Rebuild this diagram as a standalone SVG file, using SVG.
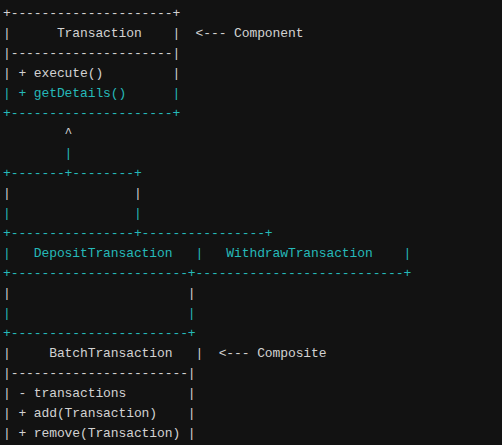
<svg xmlns="http://www.w3.org/2000/svg" width="502" height="445" viewBox="0 0 502 445">
<style>
text{font-family:"Liberation Mono","DejaVu Sans Mono",monospace;font-size:13px;letter-spacing:-0.1px;white-space:pre}
.w{fill:#d2d2d2}
.c{fill:#25b9b9}
</style>
<rect width="502" height="445" fill="#121212"/>
<g id="transaction">
<text class="w" x="3" y="17" xml:space="preserve">+---------------------+</text>
<text class="w" x="3" y="37" xml:space="preserve">|      Transaction    |  &lt;--- Component</text>
<text class="w" x="3" y="57" xml:space="preserve">|---------------------|</text>
<text class="w" x="3" y="77" xml:space="preserve">| + execute()         |</text>
<text class="c" x="3" y="97" xml:space="preserve">| + getDetails()      |</text>
<text class="c" x="3" y="117" xml:space="preserve">+---------------------+</text>
</g>
<g id="connectors">
<text class="w" x="3" y="137" xml:space="preserve">        ^</text>
<text class="c" x="3" y="157" xml:space="preserve">        |</text>
<text class="c" x="3" y="177" xml:space="preserve">+-------+--------+</text>
<text class="w" x="3" y="197" xml:space="preserve">|                |</text>
<text class="c" x="3" y="217" xml:space="preserve">|                |</text>
</g>
<g id="leaves">
<text class="c" x="3" y="237" xml:space="preserve">+----------------+----------------+</text>
<text class="c" x="3" y="257" xml:space="preserve">|   DepositTransaction   |   WithdrawTransaction    |</text>
<text class="c" x="3" y="277" xml:space="preserve">+-----------------------+---------------------------+</text>
</g>
<g id="connectors2">
<text class="w" x="3" y="297" xml:space="preserve">|                       |</text>
<text class="c" x="3" y="317" xml:space="preserve">|                       |</text>
</g>
<g id="batch">
<text class="c" x="3" y="337" xml:space="preserve">+-----------------------+</text>
<text class="w" x="3" y="357" xml:space="preserve">|     BatchTransaction   |  &lt;--- Composite</text>
<text class="w" x="3" y="377" xml:space="preserve">|-----------------------|</text>
<text class="w" x="3" y="397" xml:space="preserve">| - transactions        |</text>
<text class="w" x="3" y="417" xml:space="preserve">| + add(Transaction)    |</text>
<text class="w" x="3" y="437" xml:space="preserve">| + remove(Transaction) |</text>
</g>
</svg>
